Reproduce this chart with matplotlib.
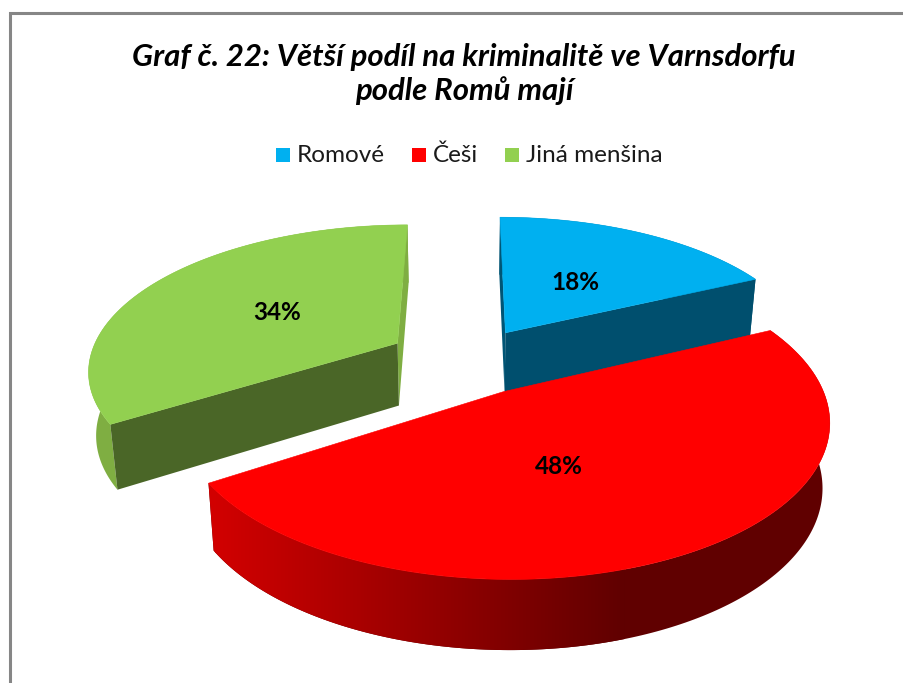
import numpy as np
import matplotlib
matplotlib.use('Agg')
import matplotlib.pyplot as plt
from matplotlib.patches import Polygon, Rectangle

title = 'Graf č. 22: Větší podíl na kriminalitě ve Varnsdorfu\npodle Romů mají'
categories = ['Romové', 'Češi', 'Jiná menšina']
values = [18, 48, 34]
top_colors = ['#00B0F0', '#FF0000', '#92D050']
inner_colors = ['#004F6E', '#FF0000', '#4A6627']
outer_colors = ['#005575', '#600000', '#7FAE42']
explode = [0.24, 0.235, 0.262]

plt.rcParams['font.family'] = ['Lato', 'DejaVu Sans']

# pie plane -> pixels, simple perspective
cx, cy = 467, 361
a, b = 309, 144
k = 0.17
depth = 63
start = 0.0


def project(u, v, z=0.0):
    u = np.asarray(u, dtype=float)
    v = np.asarray(v, dtype=float)
    s = 1 / (1 + k * v)
    x = cx + a * u * s * (1 - 0.02 * z)
    y = cy - b * v * s + depth * z * np.sqrt(s)
    return x, y


def slice_points(t0, t1, ex, z=0.0, n=200):
    mid = np.radians((t0 + t1) / 2)
    du, dv = ex * np.sin(mid), ex * np.cos(mid)
    t = np.radians(np.linspace(t0, t1, n))
    rx, ry = project(du + np.sin(t), dv + np.cos(t), z)
    ax_, ay_ = project(du, dv, z)
    return (float(ax_), float(ay_)), list(zip(rx, ry))


fig = plt.figure(figsize=(9.04, 6.83), dpi=100)
ax = fig.add_axes([0, 0, 1, 1])
ax.axis('off')

# frame, only the left and top edges are in the picture
ax.plot([10.5, 10.5, 904], [683, 13, 13], color='#868686', lw=2.2, solid_joinstyle='miter')

fractions = np.array(values) / sum(values) * 360
ends = start + np.cumsum(fractions)
starts = ends - fractions

# red wall gets darker from left to right, then stays flat
grad_x = np.linspace(215, 625, 256)
grad = np.zeros((1, 256, 3))
grad[0, :, 0] = np.linspace(0.82, 0.376, 256)

z = 1
for i in [0, 2, 1]:
    apex, rim = slice_points(starts[i], ends[i], explode[i])
    apex2, rim2 = slice_points(starts[i], ends[i], explode[i], z=1)
    wall = rim + rim2[::-1]
    if i == 1:
        patch = Polygon(wall, closed=True, fc='none', ec='none', zorder=z)
        ax.add_patch(patch)
        im = ax.imshow(grad, extent=[grad_x[0], grad_x[-1], 683, 0], aspect='auto', zorder=z)
        im.set_clip_path(patch)
        # flat dark part right of the gradient
        ax.add_patch(Polygon(wall, closed=True, fc='#600000', ec='none', zorder=z - 0.1))
        left = Polygon(wall, closed=True, fc='#D10000', ec='none', zorder=z - 0.1)
        ax.add_patch(left)
        left.set_clip_path(Rectangle((0, 0), 216, 683, transform=ax.transData))
    else:
        # blue shows its end edge towards us, green its start edge
        near = rim[-1] if i == 0 else rim[0]
        near2 = rim2[-1] if i == 0 else rim2[0]
        far = rim[0] if i == 0 else rim[-1]
        far2 = rim2[0] if i == 0 else rim2[-1]
        ax.add_patch(Polygon([apex, far, far2, apex2], closed=True, fc=outer_colors[i], ec='none', zorder=z))
        ax.add_patch(Polygon(wall, closed=True, fc=outer_colors[i], ec='none', zorder=z))
        ax.add_patch(Polygon([apex, near, near2, apex2], closed=True, fc=inner_colors[i], ec='none', zorder=z + 0.1))
    ax.add_patch(Polygon([apex] + rim, closed=True, fc=top_colors[i], ec=top_colors[i], lw=0.4, zorder=z + 0.2))
    z += 1

ax.set_xlim(0, 904)
ax.set_ylim(683, 0)

label_xy = [(575, 282), (559, 466), (277, 313)]
for v, (lx, ly) in zip(values, label_xy):
    ax.text(lx, ly, '%d%%' % v, ha='center', va='center', fontsize=17.5,
            fontweight='bold', color='black', zorder=5)

ax.text(464, 74, title, ha='center', va='center', fontsize=22.4, fontweight='bold',
        fontstyle='italic', color='black', linespacing=1.25)

# legend
legend_x = [276, 412, 505]
for name, col, lx in zip(categories, top_colors, legend_x):
    ax.add_patch(Rectangle((lx, 147.5), 14, 14, fc=col, ec='none'))
    ax.text(lx + 21, 155, name, ha='left', va='center', fontsize=17.5, color='#1a1a1a')

fig.savefig('out.png', dpi=100)
